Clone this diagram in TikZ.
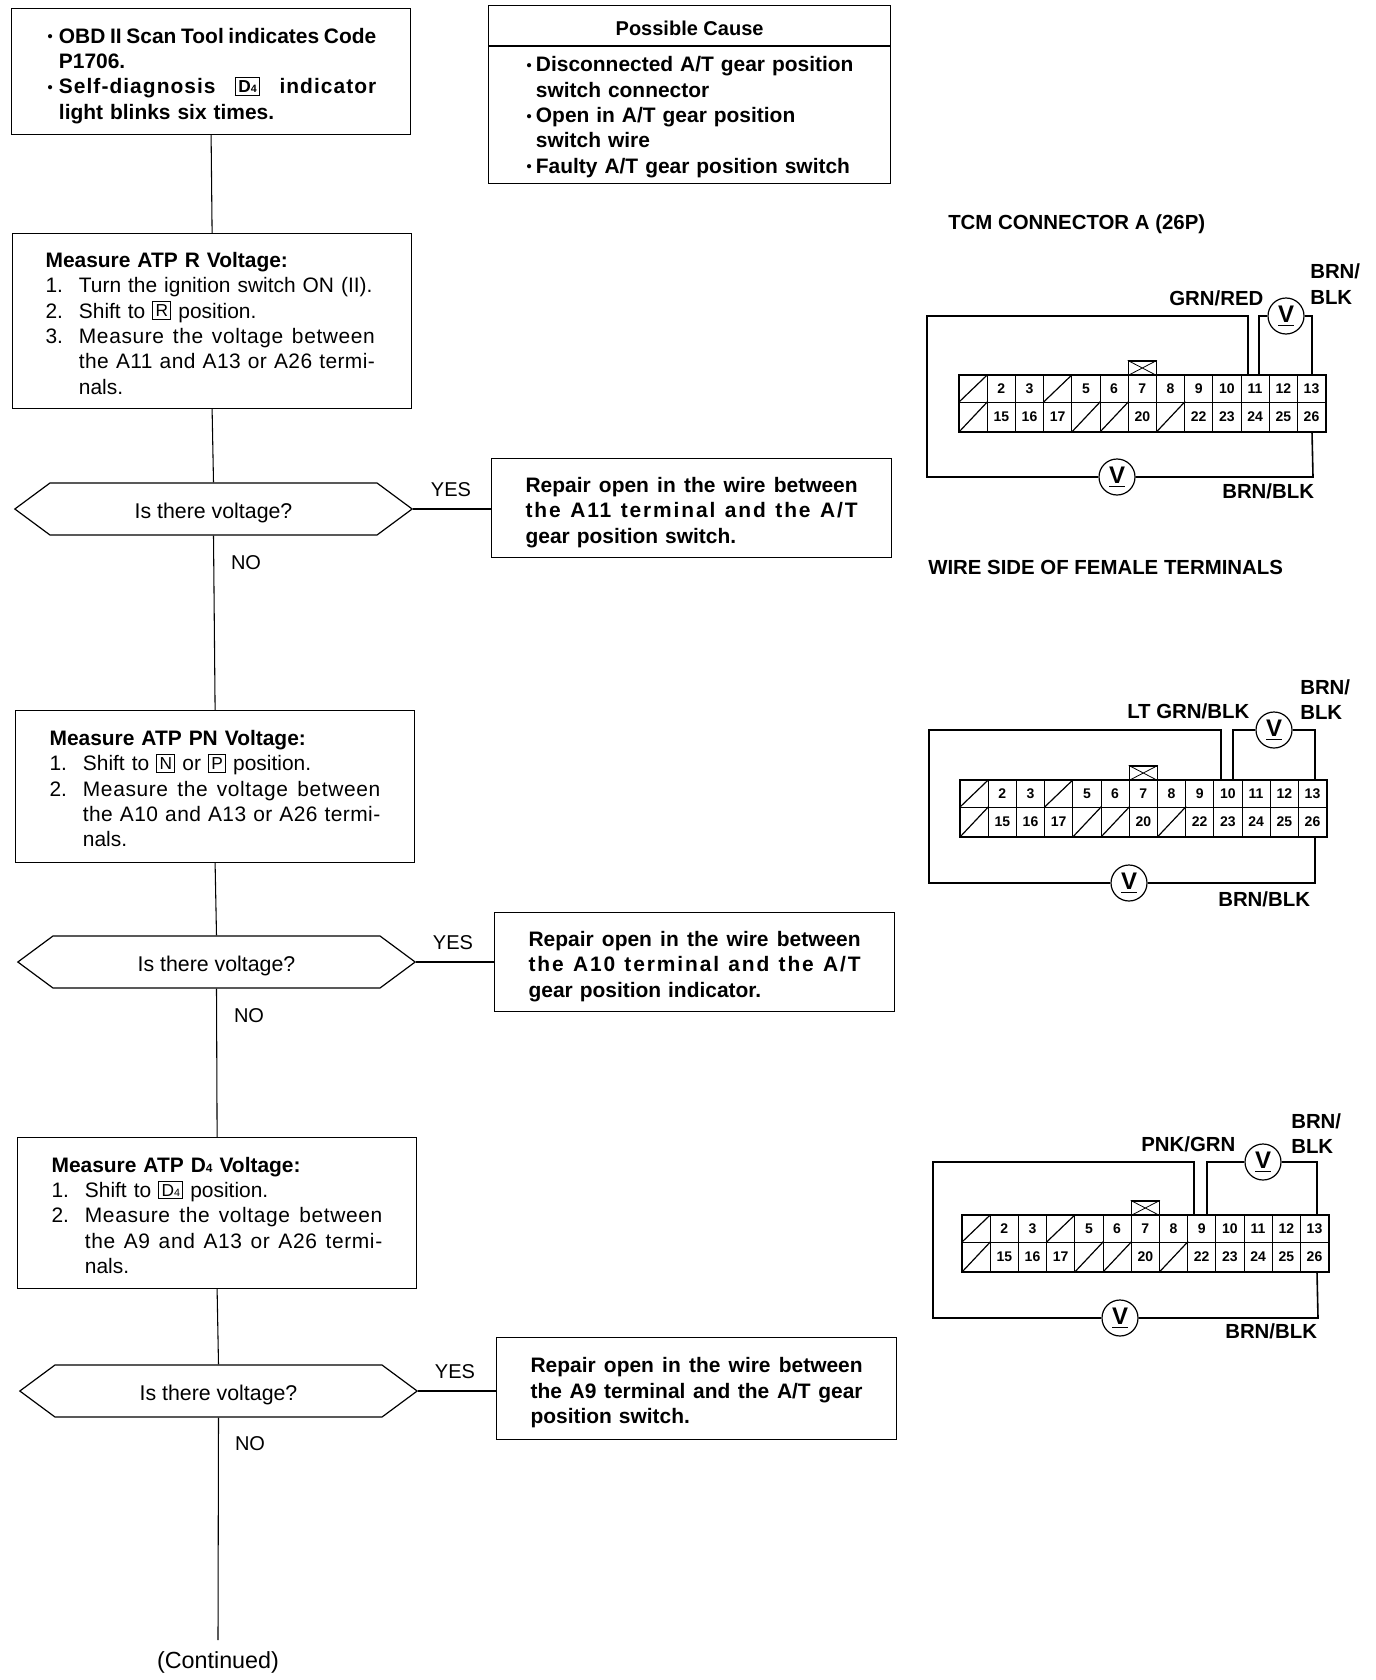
\documentclass[tikz,border=0pt]{standalone}
\usepackage{fontspec}
\setmainfont{Liberation Sans}
\usetikzlibrary{shapes.symbols}
\newcommand\kbx[1]{{\fboxsep=1.8pt\fboxrule=.7pt\raisebox{1pt}{\fbox{\fontsize{13}{13}\selectfont #1}}}}
\newcommand\Dfour{D{\fontsize{8}{8}\selectfont 4}}
\newcommand\itm[2]{\makebox[25pt][l]{#1}#2}
\newcommand\cnt[1]{\hspace*{25pt}#1}
\newcommand\smbul{\raisebox{1pt}{\fontsize{11}{11}\selectfont\textbullet}}
\newcommand\bul[3]{\makebox[#1pt][l]{\smbul}#2}
\newcommand\sln[2]{\makebox[#1pt][s]{\spaceskip=0pt\xspaceskip=0pt\relax #2}}
\newcommand\slnx[3]{\makebox[#1pt][s]{\spaceskip=0pt\xspaceskip=0pt\relax\addfontfeature{LetterSpace=#2}#3}}
\tikzset{
  x=.75pt,y=-.75pt,
  flow/.style={draw,line width=.9pt,inner sep=0pt,anchor=north west,align=left,font=\fontsize{15.7}{19}\selectfont},
  conn/.style={line width=.8pt},
  decide/.style={draw,line width=.9pt,shape=signal,signal to=east and west,signal pointer angle=73,inner sep=0pt,minimum height=39pt,minimum width=298pt,font=\fontsize{16}{19}\selectfont},
  answer/.style={inner sep=0pt,font=\fontsize{15}{19}\selectfont},
  wirelab/.style={inner sep=0pt,anchor=base west,font=\fontsize{15.3}{19}\selectfont\bfseries},
  cell/.style={draw,line width=.7pt,inner sep=0pt,minimum width=21.15pt,minimum height=20.25pt,font=\fontsize{10.5}{12}\selectfont\bfseries},
  wire/.style={line width=1.2pt},
  meter/.style={draw,circle,line width=.9pt,fill=white,inner sep=0pt,minimum size=27pt,font=\fontsize{18}{18}\selectfont\bfseries},
}
\newcommand\mV{\raisebox{1pt}{\underline{\raisebox{1.2pt}{V}}}}
\newcommand\flowbox[7]{%
  \pgfmathsetmacro\bw{(#4-#2)*.75}\pgfmathsetmacro\bh{(#5-#3)*.75}\pgfmathsetmacro\bp{#6*.75}%
  \node[flow,minimum width=\bw pt,minimum height=\bh pt,text width=\bw pt] (#1) at (#2,#3) {\leftskip=\bp pt\relax #7\par};}
% #1 prefix, #2 dx, #3 dy, #4 left, #5 top, #6 wireA x, #7 wireB x, #8 top meter x, #9 right x
\newcommand\tcm[9]{%
  \foreach \n [count=\i] in {0,2,3,0,5,6,7,8,9,10,11,12,13}{%
    \pgfmathsetmacro\cx{959+#2+28.2*(\i-1)+14.1}\pgfmathsetmacro\cy{375+#3+13.5}%
    \node[cell] (#1t\i) at (\cx,\cy) {\ifnum\n=0 \else\n\fi};
    \ifnum\n=0 \draw[line width=.9pt] (#1t\i.south west)--(#1t\i.north east);\fi}
  \foreach \n [count=\i] in {0,15,16,17,0,0,20,0,22,23,24,25,26}{%
    \pgfmathsetmacro\cx{959+#2+28.2*(\i-1)+14.1}\pgfmathsetmacro\cy{375+#3+27+15}%
    \node[cell,minimum height=22.5pt] (#1b\i) at (\cx,\cy) {\ifnum\n=0 \else\n\fi};
    \ifnum\n=0 \draw[line width=.9pt] (#1b\i.south west)--(#1b\i.north east);\fi}
  \draw[line width=1.5pt] (#1t1.north west) rectangle (#1b13.south east);
  \pgfmathsetmacro\kx{959+#2+28.2*6+14.1}\pgfmathsetmacro\ky{375+#3-7}%
  \node[draw,line width=.9pt,inner sep=0pt,minimum width=21pt,minimum height=10.5pt] (#1key) at (\kx,\ky) {};
  \draw[line width=.6pt] (#1key.south west)--(#1key.north east) (#1key.north west)--(#1key.south east);
  \pgfmathsetmacro\cty{375+#3}\pgfmathsetmacro\cby{432+#3}%
  \coordinate (#1ac) at (#6,\cty);\coordinate (#1at) at (#6,#5);
  \coordinate (#1bc) at (#7,\cty);\coordinate (#1bt) at (#7,#5);
  \coordinate (#1rc) at (#9,\cty);\coordinate (#1rt) at (#9,#5);
  \coordinate (#1lt) at (#4,#5);
  \node[meter] (#1mt) at (#8,#5) {\mV};
  \coordinate (#1lc) at (#9,\cby);}
\newcommand\tcmlow[5]{% prefix, left, bottom, low meter x, right x
  \node[meter] (#1mb) at (#4,#3) {\mV};
  \coordinate (#1lb) at (#2,#3);\coordinate (#1rb) at (#5,#3);
  \draw[wire] (#1ac)--(#1at)--(#1lt)--(#1lb)--(#1mb.west);
  \draw[wire] (#1mb.east)--(#1rb)--(#1lc);
  \draw[wire] (#1bc)--(#1bt)--(#1mt.west);
  \draw[wire] (#1mt.east)--(#1rt)--(#1rc);}
\newcommand\qtext{\rule{0pt}{17.8pt}Is there voltage?}
\begin{document}
\begin{tikzpicture}
\useasboundingbox (0,0) rectangle (1376,1680);
% flow
\flowbox{start}{11}{8}{410}{134}{36}{\rule{0pt}{17.8pt}\bfseries
 \bul{8.5}{\sln{238}{OBD II Scan Tool indicates Code}}{}\\
 \hspace*{8.5pt}P1706.\\
 \bul{8.5}{\slnx{238}{5}{Self-diagnosis \kbx{\Dfour} indicator}}{}\\
 \hspace*{8.5pt}light blinks six times.}
\flowbox{mr}{12}{233}{411}{408}{33}{\rule{0pt}{14.6pt}{\bfseries Measure ATP R Voltage:}\\
 \itm{1.}{Turn the ignition switch ON (II).}\\
 \itm{2.}{Shift to \kbx{R} position.}\\
 \itm{3.}{\slnx{222}{3}{Measure the voltage between}}\\
 \cnt{\slnx{222}{2}{the A11 and A13 or A26 termi-}}\\
 \cnt{nals.}}
\node[decide] (q1) at (213.5,509) {\qtext};
\flowbox{fix1}{491}{458}{891}{557}{34}{\rule{0pt}{17.8pt}\bfseries
 \sln{249}{Repair open in the wire between}\\
 \slnx{249}{9}{the A11 terminal and the A/T}\\
 gear position switch.}
\flowbox{mpn}{15}{710}{414}{862}{34}{\rule{0pt}{14.6pt}{\bfseries Measure ATP PN Voltage:}\\
 \itm{1.}{Shift to \kbx{N} or \kbx{P} position.}\\
 \itm{2.}{\slnx{223}{3}{Measure the voltage between}}\\
 \cnt{\slnx{223}{2}{the A10 and A13 or A26 termi-}}\\
 \cnt{nals.}}
\node[decide] (q2) at (216.5,962) {\qtext};
\flowbox{fix2}{494}{912}{894}{1011}{34}{\rule{0pt}{17.8pt}\bfseries
 \sln{249}{Repair open in the wire between}\\
 \slnx{249}{9}{the A10 terminal and the A/T}\\
 gear position indicator.}
\flowbox{md}{17}{1137}{416}{1288}{34}{\rule{0pt}{14.6pt}{\bfseries Measure ATP D{\fontsize{9}{9}\selectfont 4} Voltage:}\\
 \itm{1.}{Shift to \kbx{\Dfour} position.}\\
 \itm{2.}{\slnx{223}{3}{Measure the voltage between}}\\
 \cnt{\slnx{223}{3}{the A9 and A13 or A26 termi-}}\\
 \cnt{nals.}}
\node[decide] (q3) at (218.5,1391) {\qtext};
\flowbox{fix3}{496}{1337}{896}{1439}{34}{\rule{0pt}{17.8pt}\bfseries
 \sln{249}{Repair open in the wire between}\\
 \sln{249}{the A9 terminal and the A/T gear}\\
 position switch.}
\node[answer] (y1) at (451,490) {YES};
\node[answer] (n1) at (246,563) {NO};
\node[answer] (y2) at (453,943) {YES};
\node[answer] (n2) at (249,1016) {NO};
\node[answer] (y3) at (455,1372) {YES};
\node[answer] (n3) at (250,1444) {NO};
\node[answer,font=\fontsize{17.5}{19}\selectfont] (cont) at (218,1662) {(Continued)};
\coordinate (contend) at (218,1640);
\draw[conn] (start.south)--(mr.north);
\draw[conn] (mr.south)--(q1.north);
\draw[conn] (q1.south)--(mpn.north);
\draw[conn] (mpn.south)--(q2.north);
\draw[conn] (q2.south)--(md.north);
\draw[conn] (md.south)--(q3.north);
\draw[conn] (q3.south)--(contend);
\draw[conn] (q1.east)--(q1.east -| fix1.west);
\draw[conn] (q2.east)--(q2.east -| fix2.west);
\draw[conn] (q3.east)--(q3.east -| fix3.west);
% possible cause
\flowbox{cause}{488}{46}{890}{183}{38}{\rule{0pt}{14.6pt}\bfseries
 \makebox[7pt][l]{\smbul}Disconnected A/T gear position\\
 \hspace*{7pt}switch connector\\
 \makebox[7pt][l]{\smbul}Open in A/T gear position\\
 \hspace*{7pt}switch wire\\
 \makebox[7pt][l]{\smbul}Faulty A/T gear position switch}
\node[draw,line width=.9pt,inner sep=0pt,minimum width=301.5pt,minimum height=30pt,anchor=south west,font=\fontsize{15}{19}\selectfont\bfseries] (causehead) at (488,46) {\rule{0pt}{15pt}Possible Cause};
% connectors
\node[wirelab] (title) at (948,229) {TCM CONNECTOR A (26P)};
\node[wirelab] (side) at (928,574) {WIRE SIDE OF FEMALE TERMINALS};
\tcm{a}{0}{0}{927}{316}{1248}{1259}{1286}{1312}
\tcmlow{a}{927}{477}{1117}{1313}
\node[wirelab] (a1) at (1169,305) {GRN/RED};
\node[wirelab] (a2) at (1310,278) {BRN/};
\node[wirelab] (a3) at (1310,304) {BLK};
\node[wirelab] (a4) at (1222,498) {BRN/BLK};
\tcm{b}{1}{405}{929}{730}{1221}{1233}{1274}{1315}
\tcmlow{b}{929}{883}{1129}{1315}
\node[wirelab] (b1l) at (1127,718) {LT GRN/BLK};
\node[wirelab] (b2l) at (1300,694) {BRN/};
\node[wirelab] (b3l) at (1300,719) {BLK};
\node[wirelab] (b4l) at (1218,906) {BRN/BLK};
\tcm{c}{3}{840}{933}{1162}{1194}{1207}{1263}{1317}
\tcmlow{c}{933}{1318}{1120}{1318}
\node[wirelab] (c1l) at (1141,1151) {PNK/GRN};
\node[wirelab] (c2l) at (1291,1128) {BRN/};
\node[wirelab] (c3l) at (1291,1153) {BLK};
\node[wirelab] (c4l) at (1225,1338) {BRN/BLK};
\end{tikzpicture}
\end{document}
